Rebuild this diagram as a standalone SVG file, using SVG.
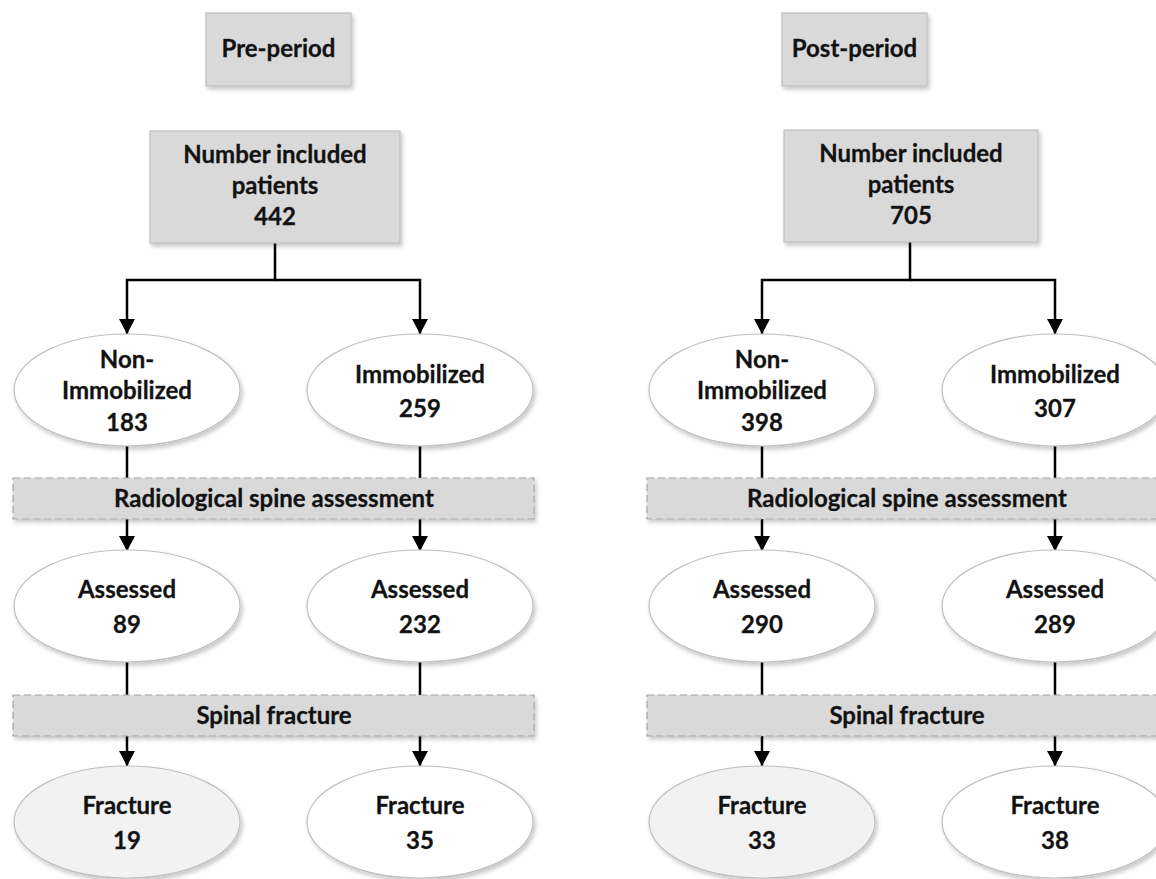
<svg xmlns="http://www.w3.org/2000/svg" width="1156" height="879" viewBox="0 0 1156 879">
<defs>
<filter id="sh" x="-10%" y="-10%" width="125%" height="130%">
<feDropShadow dx="2" dy="3" stdDeviation="2" flood-color="#000" flood-opacity="0.22"/>
</filter>
<marker id="ah" markerUnits="userSpaceOnUse" markerWidth="16" markerHeight="16" refX="15" refY="8" orient="auto">
<path d="M0,0 L15,8 L0,16 z" fill="#000"/>
</marker>
</defs>
<style>
.box{fill:#d9d9d9;stroke:#bfbfbf;stroke-width:1.2}
.band{fill:#d9d9d9;stroke:#a6a6a6;stroke-width:1.2;stroke-dasharray:7 4}
.ell{fill:#ffffff;stroke:#bfbfbf;stroke-width:1.2}
.ellg{fill:#f2f2f2;stroke:#bfbfbf;stroke-width:1.2}
.t{font-family:Lato,"Open Sans","Liberation Sans",sans-serif;font-weight:bold;font-size:24px;fill:#111;text-anchor:middle;stroke:#222;stroke-width:0.3}
.c{fill:none;stroke:#000;stroke-width:2.5}
.ca{fill:none;stroke:#000;stroke-width:2.5;marker-end:url(#ah)}
</style>
<rect width="1156" height="879" fill="#fff"/>

<g id="connectors">
<path class="ca" d="M275,243 V280 H127 V334"/>
<path class="ca" d="M275,280 H420 V334"/>
<path class="c" d="M127,446 V478"/>
<path class="c" d="M420,446 V478"/>
<path class="ca" d="M127,519 V551"/>
<path class="ca" d="M420,519 V551"/>
<path class="c" d="M127,662 V695"/>
<path class="c" d="M420,662 V695"/>
<path class="ca" d="M127,736 V766"/>
<path class="ca" d="M420,736 V766"/>

<path class="ca" d="M910,242 V280 H762 V334"/>
<path class="ca" d="M910,280 H1055 V334"/>
<path class="c" d="M762,446 V478"/>
<path class="c" d="M1055,446 V478"/>
<path class="ca" d="M762,519 V551"/>
<path class="ca" d="M1055,519 V551"/>
<path class="c" d="M762,662 V695"/>
<path class="c" d="M1055,662 V695"/>
<path class="ca" d="M762,736 V766"/>
<path class="ca" d="M1055,736 V766"/>
</g>

<g id="pre-period">
<rect class="box" x="206" y="13" width="145" height="73" filter="url(#sh)"/>
<text class="t" x="278.5" y="57">Pre-period</text>
</g>
<g id="post-period">
<rect class="box" x="782" y="13" width="145" height="73" filter="url(#sh)"/>
<text class="t" x="854.5" y="57">Post-period</text>
</g>

<g id="pre-included">
<rect class="box" x="150" y="131" width="250" height="112" filter="url(#sh)"/>
<text class="t" x="275" y="163">Number included</text>
<text class="t" x="275" y="194">patients</text>
<text class="t" x="275" y="225">442</text>
</g>
<g id="post-included">
<rect class="box" x="784" y="130" width="254" height="112" filter="url(#sh)"/>
<text class="t" x="911" y="162">Number included</text>
<text class="t" x="911" y="193">patients</text>
<text class="t" x="911" y="224">705</text>
</g>

<g id="pre-nonimmobilized">
<ellipse class="ell" cx="127" cy="390" rx="113" ry="56" filter="url(#sh)"/>
<text class="t" x="127" y="368">Non-</text>
<text class="t" x="127" y="399">Immobilized</text>
<text class="t" x="127" y="431">183</text>
</g>
<g id="pre-immobilized">
<ellipse class="ell" cx="420" cy="390" rx="113" ry="56" filter="url(#sh)"/>
<text class="t" x="420" y="383">Immobilized</text>
<text class="t" x="420" y="417">259</text>
</g>
<g id="post-nonimmobilized">
<ellipse class="ell" cx="762" cy="390" rx="113" ry="56" filter="url(#sh)"/>
<text class="t" x="762" y="368">Non-</text>
<text class="t" x="762" y="399">Immobilized</text>
<text class="t" x="762" y="431">398</text>
</g>
<g id="post-immobilized">
<ellipse class="ell" cx="1055" cy="390" rx="113" ry="56" filter="url(#sh)"/>
<text class="t" x="1055" y="383">Immobilized</text>
<text class="t" x="1055" y="417">307</text>
</g>

<g id="pre-radiological">
<rect class="band" x="13" y="478" width="521" height="41" filter="url(#sh)"/>
<text class="t" x="274" y="507">Radiological spine assessment</text>
</g>
<g id="post-radiological">
<rect class="band" x="647" y="478" width="521" height="41" filter="url(#sh)"/>
<text class="t" x="907" y="507">Radiological spine assessment</text>
</g>

<g id="pre-assessed-non">
<ellipse class="ell" cx="127" cy="606" rx="113" ry="56" filter="url(#sh)"/>
<text class="t" x="127" y="598">Assessed</text>
<text class="t" x="127" y="633">89</text>
</g>
<g id="pre-assessed-imm">
<ellipse class="ell" cx="420" cy="606" rx="113" ry="56" filter="url(#sh)"/>
<text class="t" x="420" y="598">Assessed</text>
<text class="t" x="420" y="633">232</text>
</g>
<g id="post-assessed-non">
<ellipse class="ell" cx="762" cy="606" rx="113" ry="56" filter="url(#sh)"/>
<text class="t" x="762" y="598">Assessed</text>
<text class="t" x="762" y="633">290</text>
</g>
<g id="post-assessed-imm">
<ellipse class="ell" cx="1055" cy="606" rx="113" ry="56" filter="url(#sh)"/>
<text class="t" x="1055" y="598">Assessed</text>
<text class="t" x="1055" y="633">289</text>
</g>

<g id="pre-spinal">
<rect class="band" x="13" y="695" width="521" height="41" filter="url(#sh)"/>
<text class="t" x="274" y="724">Spinal fracture</text>
</g>
<g id="post-spinal">
<rect class="band" x="647" y="695" width="521" height="41" filter="url(#sh)"/>
<text class="t" x="907" y="724">Spinal fracture</text>
</g>

<g id="pre-fracture-non">
<ellipse class="ellg" cx="127" cy="822" rx="113" ry="56" filter="url(#sh)"/>
<text class="t" x="127" y="814">Fracture</text>
<text class="t" x="127" y="849">19</text>
</g>
<g id="pre-fracture-imm">
<ellipse class="ell" cx="420" cy="822" rx="113" ry="56" filter="url(#sh)"/>
<text class="t" x="420" y="814">Fracture</text>
<text class="t" x="420" y="849">35</text>
</g>
<g id="post-fracture-non">
<ellipse class="ellg" cx="762" cy="822" rx="113" ry="56" filter="url(#sh)"/>
<text class="t" x="762" y="814">Fracture</text>
<text class="t" x="762" y="849">33</text>
</g>
<g id="post-fracture-imm">
<ellipse class="ell" cx="1055" cy="822" rx="113" ry="56" filter="url(#sh)"/>
<text class="t" x="1055" y="814">Fracture</text>
<text class="t" x="1055" y="849">38</text>
</g>
</svg>
